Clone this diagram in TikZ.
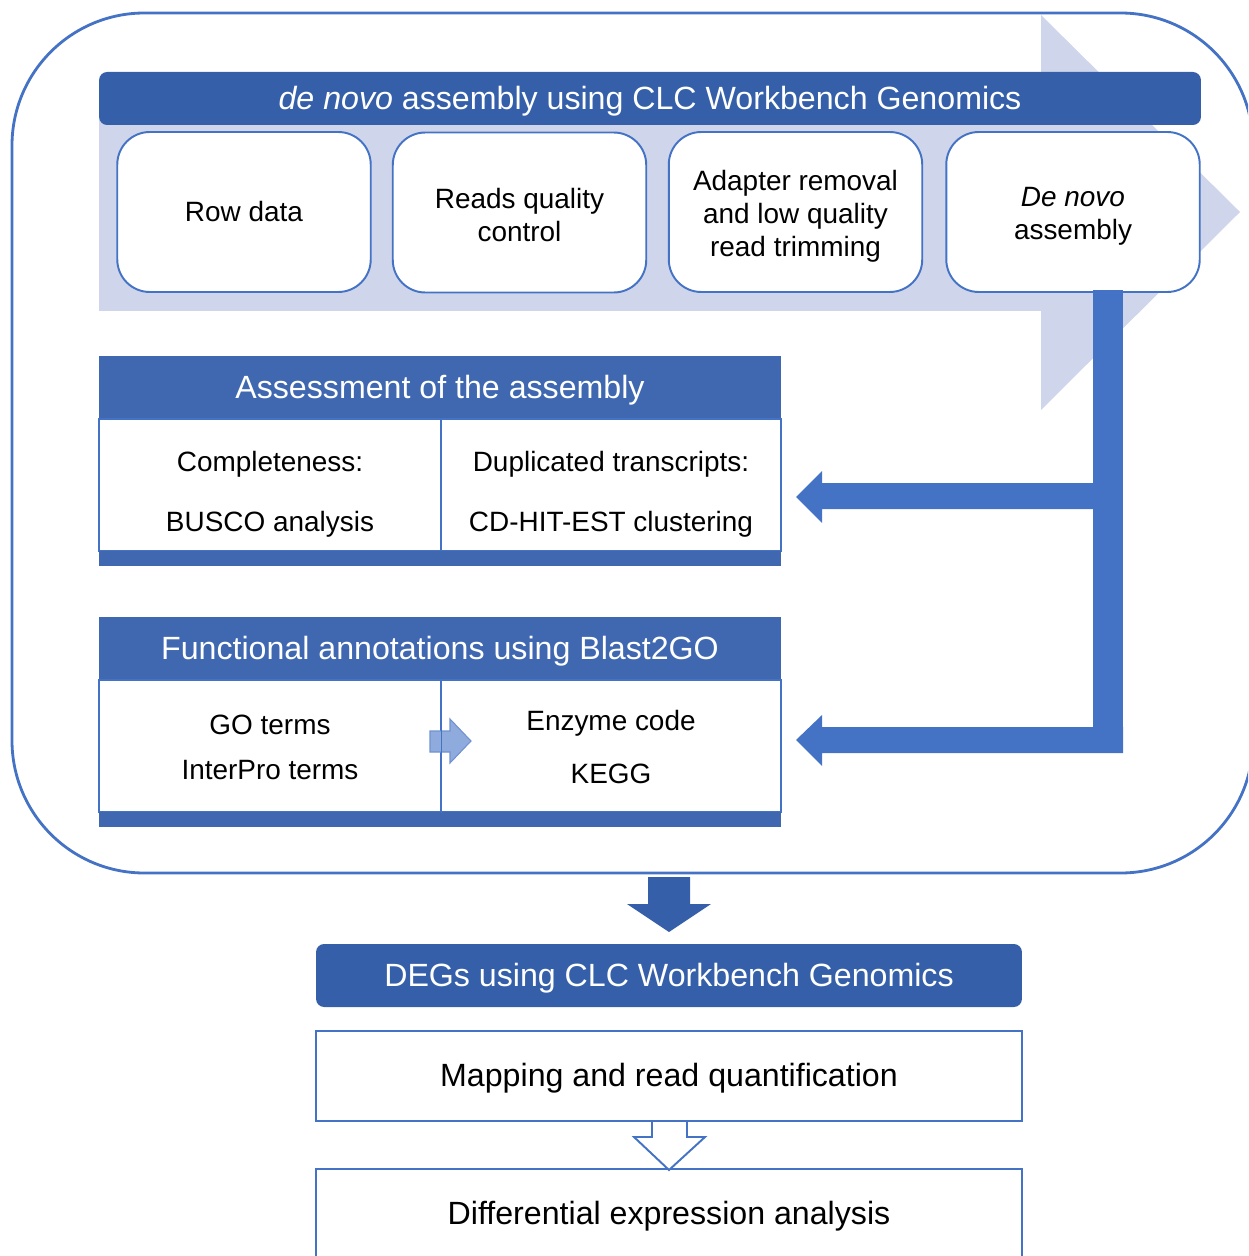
\documentclass[tikz,border=0pt]{standalone}
\usepackage{fontspec}
\setmainfont{Liberation Sans}
\definecolor{outerblue}{HTML}{4472C4}
\definecolor{hdrblue}{HTML}{3560A9}
\definecolor{blockblue}{HTML}{3F68B1}
\definecolor{chev}{HTML}{CFD5EA}
\definecolor{smallfill}{HTML}{8FAADC}
\definecolor{smalldraw}{HTML}{6F92D0}
\newcommand\myBig{\fontsize{18.3}{22}\selectfont}
\newcommand\mySmall{\fontsize{15.9}{18.8}\selectfont}
\newcommand\topsp[1]{\rule{0pt}{#1}}
\begin{document}
\begin{tikzpicture}[x=0.02cm,y=-0.02cm,
  stepbox/.style={draw=outerblue, line width=1.1pt, fill=white, rounded corners=0.65cm,
    minimum width=5.07cm, minimum height=3.2cm, align=center, font=\mySmall, inner sep=0pt},
  hdr/.style={fill=hdrblue, text=white, font=\myBig, inner sep=0pt, text height=13pt, text depth=0pt},
  blockhdr/.style={fill=blockblue, text=white, font=\myBig, inner sep=0pt,
    minimum width=13.64cm, minimum height=1.26cm, text height=13pt, text depth=0pt},
  cell/.style={draw=outerblue, line width=0.8pt, fill=white, minimum height=2.64cm, inner sep=0pt},
  bar/.style={fill=blockblue, minimum height=0.3cm, minimum width=13.64cm, inner sep=0pt},
  txt/.style={align=center, font=\mySmall, inner sep=0pt},
  plainbox/.style={draw=outerblue, line width=1.1pt, fill=white, minimum width=14.12cm,
    minimum height=1.8cm, font=\myBig, inner sep=0pt, text height=13pt, text depth=1.2pt},
  thick/.style={fill=outerblue},
]
\useasboundingbox (0,0) rectangle (1248,1256);
\clip (0,0) rectangle (1248,1256);

% outer rounded frame
\draw[outerblue, line width=1.6pt, rounded corners=2.65cm] (12,13) rectangle (1253,873);

% light chevron
\fill[chev] (99,113) -- (1041,113) -- (1041,15) -- (1240,212) -- (1041,410)
  -- (1041,311) -- (99,311) -- cycle;

% top header
\node[hdr, rounded corners=0.16cm, minimum width=22.04cm, minimum height=1.06cm]
  (tophdr) at (650,98.5) {\textit{de novo} assembly using CLC Workbench Genomics};

% four steps
\node[stepbox] (row) at (244,212) {Row data};
\node[stepbox] (rqc) at (519.5,212.5) {\topsp{14pt}Reads quality\\control};
\node[stepbox] (adap) at (795.5,212) {\topsp{16pt}Adapter removal\\and low quality\\read trimming};
\node[stepbox] (denovo) at (1073,212) {\topsp{16pt}\textit{De novo}\\assembly};

% thick connector
\coordinate (vtop) at (1093,290);
\coordinate (vbot) at (1123,753);
\fill[thick] (vtop) rectangle (vbot);
\fill[thick] (1093,483) -- (822,483) -- (822,471) -- (796,497) -- (822,523) -- (822,509)
  -- (1093,509) -- cycle;
\fill[thick] (1123,727) -- (822,727) -- (822,715) -- (796,740) -- (822,766) -- (822,753)
  -- (1123,753) -- cycle;

% assessment block
\node[blockhdr] (asshdr) at (440,387.5) {Assessment of the assembly};
\node[cell, minimum width=6.84cm] (acell1) at (270,485) {};
\node[cell, minimum width=6.8cm] (acell2) at (611,485) {};
\node[bar] (abar) at (440,558.5) {};
\node[txt, font=\fontsize{15.9}{34.1}\selectfont] (atxt1) at (270,494) {Completeness:\\BUSCO analysis};
\node[txt, font=\fontsize{15.9}{34.1}\selectfont] (atxt2) at (611,494) {Duplicated transcripts:\\CD-HIT-EST clustering};

% functional block
\node[blockhdr] (funhdr) at (440,648.5) {Functional annotations using Blast2GO};
\node[cell, minimum width=6.84cm] (fcell1) at (270,746) {};
\node[cell, minimum width=6.8cm] (fcell2) at (611,746) {};
\node[bar] (fbar) at (440,819.5) {};
\node[txt, font=\fontsize{15.9}{25.6}\selectfont] (ftxt1) at (270,747) {GO terms\\InterPro terms};
\node[txt, font=\fontsize{15.9}{30.2}\selectfont] (ftxt2) at (611,747) {Enzyme code\\KEGG};
\filldraw[fill=smallfill, draw=smalldraw, line width=0.6pt]
  (430,731) -- (450,731) -- (450,719) -- (471,741) -- (450,763) -- (450,752) -- (430,752) -- cycle;
\draw[outerblue, line width=0.8pt] (fcell1.north east) -- (fcell1.south east);

% down arrow to DEGs
\fill[hdrblue] (648,877) -- (690,877) -- (690,904) -- (711,904) -- (669,932) -- (627,904)
  -- (648,904) -- cycle;

% DEGs part
\node[hdr, rounded corners=0.16cm, minimum width=14.12cm, minimum height=1.26cm]
  (deghdr) at (669,975.5) {DEGs using CLC Workbench Genomics};
\node[plainbox] (mapq) at (669,1076) {Mapping and read quantification};
\node[plainbox] (diffx) at (669,1214) {Differential expression analysis};
\filldraw[fill=white, draw=outerblue, line width=1.1pt]
  (652,1122) -- (652,1137) -- (634,1137) -- (669,1170) -- (705,1137) -- (687,1137) -- (687,1122);
\end{tikzpicture}
\end{document}
